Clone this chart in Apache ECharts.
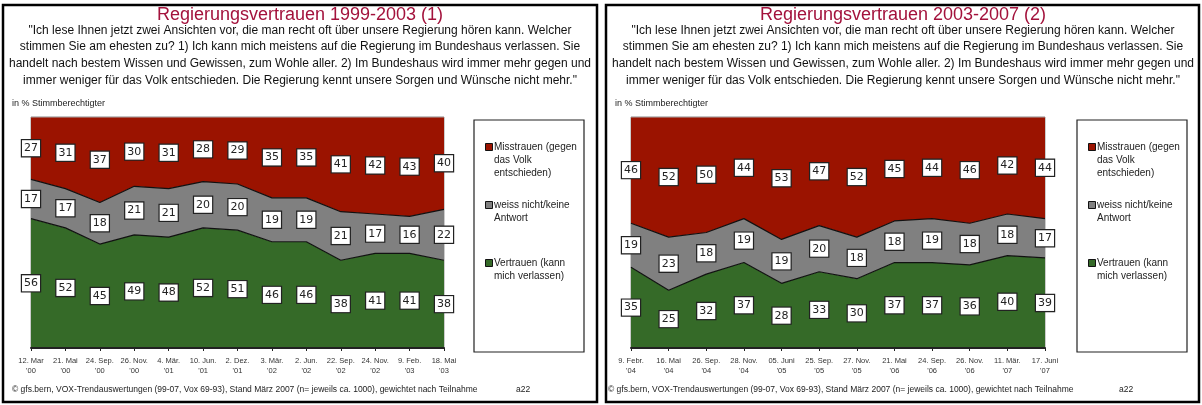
<!DOCTYPE html>
<html><head><meta charset="utf-8">
<script src="https://cdn.jsdelivr.net/npm/echarts@6/dist/echarts.min.js"></script>
<style>html,body{margin:0;padding:0;background:#fff}#c{width:1202px;height:405px}</style>
</head><body><div id="c"></div>
<script>
// ---- Data ----
const titles = ['Regierungsvertrauen 1999-2003 (1)', 'Regierungsvertrauen 2003-2007 (2)'];
const question = '"Ich lese Ihnen jetzt zwei Ansichten vor, die man recht oft über unsere Regierung hören kann. Welcher\nstimmen Sie am ehesten zu? 1) Ich kann mich meistens auf die Regierung im Bundeshaus verlassen. Sie\nhandelt nach bestem Wissen und Gewissen, zum Wohle aller. 2) Im Bundeshaus wird immer mehr gegen und\nimmer weniger für das Volk entschieden. Die Regierung kennt unsere Sorgen und Wünsche nicht mehr."';
const unitLabel = 'in % Stimmberechtigter';
const footer = '© gfs.bern, VOX-Trendauswertungen (99-07, Vox 69-93), Stand März 2007 (n= jeweils ca. 1000), gewichtet nach Teilnahme';
const code = 'a22';
const seriesNames = ['Vertrauen (kann mich verlassen)', 'weiss nicht/keine Antwort', 'Misstrauen (gegen das Volk entschieden)'];
const legendTexts = ['Misstrauen (gegen\ndas Volk\nentschieden)', 'weiss nicht/keine\nAntwort', 'Vertrauen (kann\nmich verlassen)'];

const categories1 = ["12. Mar\n'00","21. Mai\n'00","24. Sep.\n'00","26. Nov.\n'00","4. Mär.\n'01","10. Jun.\n'01","2. Dez.\n'01","3. Mär.\n'02","2. Jun.\n'02","22. Sep.\n'02","24. Nov.\n'02","9. Feb.\n'03","18. Mai\n'03"];
const vertrauen1   = [56,52,45,49,48,52,51,46,46,38,41,41,38];
const weissNicht1  = [17,17,18,21,21,20,20,19,19,21,17,16,22];
const misstrauen1  = [27,31,37,30,31,28,29,35,35,41,42,43,40];

const categories2 = ["9. Febr.\n'04","16. Mai\n'04","26. Sep.\n'04","28. Nov.\n'04","05. Juni\n'05","25. Sep.\n'05","27. Nov.\n'05","21. Mai\n'06","24. Sep.\n'06","26. Nov.\n'06","11. Mär.\n'07","17. Juni\n'07"];
const vertrauen2   = [35,25,32,37,28,33,30,37,37,36,40,39];
const weissNicht2  = [19,23,18,19,19,20,18,18,19,18,18,17];
const misstrauen2  = [46,52,50,44,53,47,52,45,44,46,42,44];

// ---- Styles ----
const colors = { green: '#356a28', gray: '#808080', red: '#9b1300' };
const FONT = '"Liberation Sans", Arial, sans-serif';
const panels = [
  { off: 0, cats: categories1, v: vertrauen1, w: weissNicht1, m: misstrauen1, gridLeft: 31, gridW: 413 },
  { off: 603, cats: categories2, v: vertrauen2, w: weissNicht2, m: misstrauen2, gridLeft: 631, gridW: 414 }
];

const grid = [], xAxis = [], yAxis = [], series = [], graphic = [];
panels.forEach((p, i) => {
  grid.push({ left: p.gridLeft, top: 117, width: p.gridW, height: 231, show: true, borderColor: '#999', borderWidth: 1, backgroundColor: 'transparent' });
  xAxis.push({
    type: 'category', gridIndex: i, data: p.cats, boundaryGap: false,
    axisLine: { lineStyle: { color: '#222', width: 2 } },
    axisTick: { show: true, length: 3, lineStyle: { color: '#222' } },
    axisLabel: { fontSize: 7.5, color: '#333', fontFamily: FONT, lineHeight: 10, margin: 8, interval: 0 },
    splitLine: { show: false }, z: 10
  });
  yAxis.push({ type: 'value', gridIndex: i, min: 0, max: 100, show: false, splitLine: { show: false } });
  const stack = 's' + i;
  const layers = [
    { name: seriesNames[0], data: p.v, color: colors.green, line: '#111' },
    { name: seriesNames[1], data: p.w, color: colors.gray, line: '#111' },
    { name: seriesNames[2], data: p.m, color: colors.red, line: '#aaa' }
  ];
  layers.forEach(l => {
    series.push({
      type: 'line', name: l.name, xAxisIndex: i, yAxisIndex: i, stack: stack, data: l.data,
      symbol: 'none', smooth: false,
      lineStyle: { color: l.line, width: 1.2 },
      areaStyle: { color: l.color, opacity: 1 },
      itemStyle: { color: l.color }, silent: true
    });
  });
  // value labels at the middle of each band
  const pts = [];
  p.cats.forEach((c, k) => {
    const v = p.v[k], w = p.w[k], m = p.m[k];
    pts.push([k, v / 2, v]);
    pts.push([k, v + w / 2, w]);
    pts.push([k, v + w + m / 2, m]);
  });
  series.push({
    type: 'scatter', xAxisIndex: i, yAxisIndex: i, data: pts, symbolSize: 0, z: 20, silent: true,
    itemStyle: { opacity: 1 },
    label: {
      show: true, position: 'inside', formatter: q => q.value[2], opacity: 1,
      fontSize: 11, fontFamily: '"DejaVu Sans", sans-serif', color: '#222',
      backgroundColor: '#ffffff', borderColor: '#222', borderWidth: 1.2, padding: [3, 2, 2, 2]
    },
    emphasis: { disabled: true }
  });

  const cx = (i === 0 ? 300 : 903);
  // panel border
  graphic.push({ type: 'rect', shape: { x: (i === 0 ? 3 : 606), y: 5, width: (i === 0 ? 594 : 593), height: 397 }, style: { fill: 'none', stroke: '#000', lineWidth: 2.5 }, z: 100 });
  graphic.push({ type: 'text', x: cx, y: 15, style: { text: titles[i], fill: '#a3123c', font: '18px ' + FONT, textAlign: 'center', textVerticalAlign: 'middle' } });
  graphic.push({ type: 'text', x: cx, y: 22, style: { text: question, fill: '#111', font: '12px ' + FONT, textAlign: 'center', textVerticalAlign: 'top', lineHeight: 16.7 } });
  graphic.push({ type: 'text', x: 12 + p.off, y: 104, style: { text: unitLabel, fill: '#222', font: '9px ' + FONT, textVerticalAlign: 'middle' } });
  graphic.push({ type: 'text', x: 12 + p.off - (i === 1 ? 7 : 0), y: 390, style: { text: footer, fill: '#222', font: '8.5px ' + FONT, textVerticalAlign: 'middle' } });
  graphic.push({ type: 'text', x: 516 + p.off, y: 390, style: { text: code, fill: '#222', font: '8.5px ' + FONT, textVerticalAlign: 'middle' } });
  // legend box
  const lx = 474 + p.off;
  graphic.push({ type: 'rect', shape: { x: lx, y: 120, width: 110, height: 232 }, style: { fill: '#fff', stroke: '#222', lineWidth: 1.2 } });
  const legColors = [colors.red, colors.gray, colors.green];
  const legY = [147, 205, 263];
  legendTexts.forEach((t, k) => {
    graphic.push({ type: 'rect', shape: { x: lx + 11.5, y: legY[k] - 3.5, width: 7, height: 7 }, style: { fill: legColors[k], stroke: '#111', lineWidth: 1 } });
    graphic.push({ type: 'text', x: lx + 20, y: legY[k] - 6.5, style: { text: t, fill: '#222', font: '10px ' + FONT, lineHeight: 13, textVerticalAlign: 'top' } });
  });
});

const chart = echarts.init(document.getElementById('c'), null, { renderer: 'canvas' });
chart.setOption({
  animation: false,
  backgroundColor: '#fff',
  grid, xAxis, yAxis, series, graphic
});
</script></body></html>
